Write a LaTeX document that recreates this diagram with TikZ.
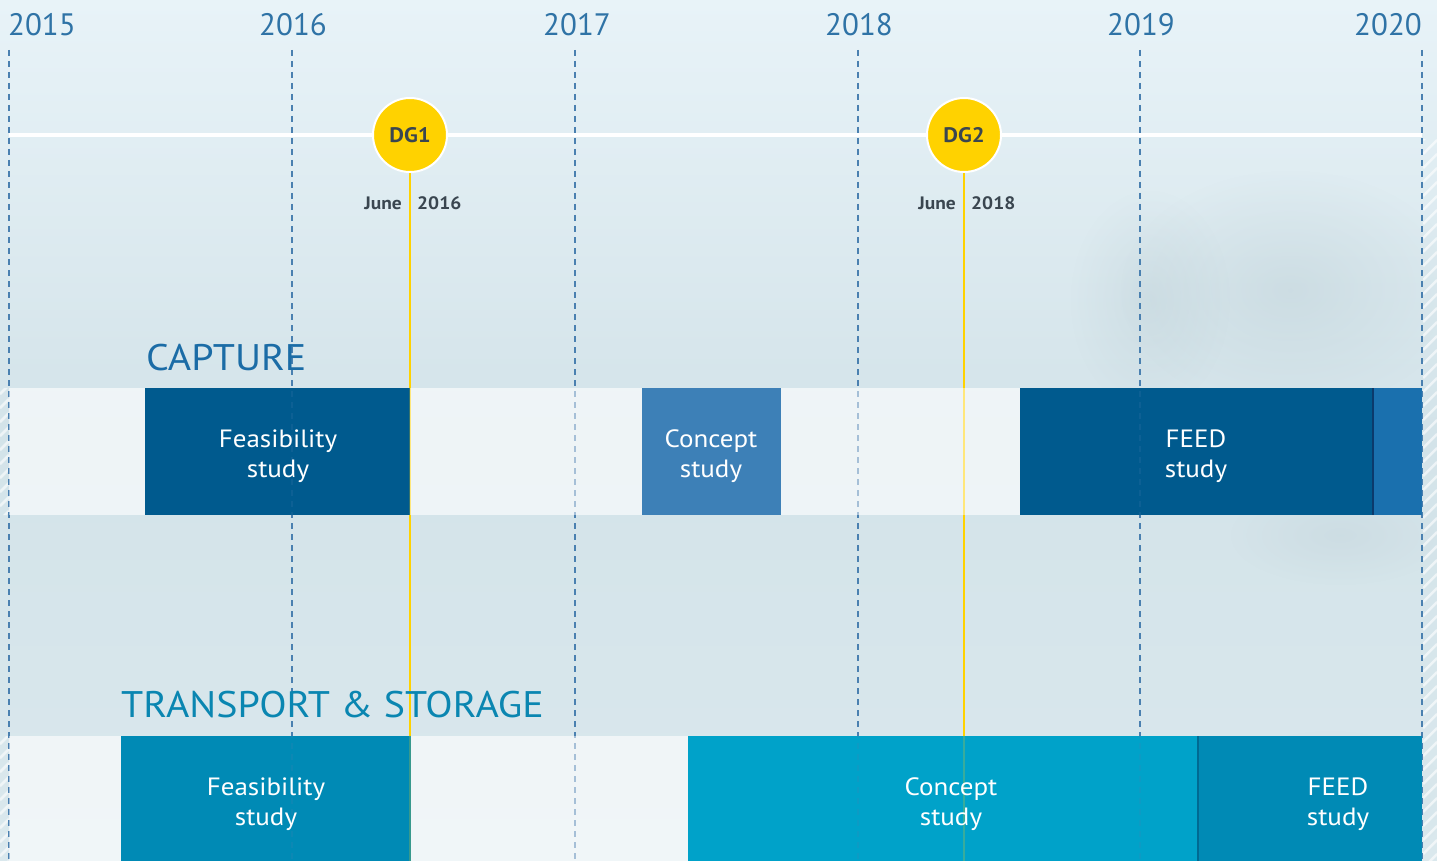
\documentclass[tikz,border=0pt]{standalone}
\usepackage{fontspec}
\setmainfont{PT Sans}[FakeStretch=1.08]
\newfontfamily\yearfont{PT Sans}
\usetikzlibrary{fadings}
\tikzfading[name=softblob, inner color=transparent!0, outer color=transparent!100]
\definecolor{bgtop}{HTML}{E8F3F8}
\definecolor{bgmid}{HTML}{D3E3E9}
\definecolor{bgbot}{HTML}{DAE8ED}
\definecolor{yearblue}{HTML}{2F73A6}
\definecolor{dashblue}{HTML}{4A80B0}
\definecolor{dgyellow}{HTML}{FFD200}
\definecolor{dgtext}{HTML}{3A4650}
\definecolor{capdark}{HTML}{005A8E}
\definecolor{capmid}{HTML}{3D80B7}
\definecolor{capend}{HTML}{1A70AE}
\definecolor{capsep}{HTML}{0B3A6C}
\definecolor{capttl}{HTML}{1B6CA6}
\definecolor{tsdark}{HTML}{008AB5}
\definecolor{tsmid}{HTML}{00A2C9}
\definecolor{tssep}{HTML}{006A92}
\definecolor{tsttl}{HTML}{0A86B1}
\definecolor{treegray}{HTML}{B4C8CF}
\begin{document}
\begin{tikzpicture}[x=1pt,y=-1pt,
  yearlbl/.style={text=yearblue,font=\yearfont\fontsize{31}{31}\selectfont,inner sep=0pt},
  gridline/.style={draw=dashblue,line width=1.4pt,dash pattern=on 6pt off 5pt},
  dgline/.style={draw=dgyellow,line width=2.6pt},
  dgcircle/.style={circle,fill=dgyellow,draw=white,line width=2pt,minimum size=74pt,inner sep=0pt,
    text=dgtext,font=\fontsize{21}{21}\selectfont\bfseries},
  datelbl/.style={text=dgtext,font=\fontsize{18}{18}\selectfont\bfseries,inner sep=0pt},
  lightbar/.style={fill=white,fill opacity=0.62,draw=none},
  bar/.style={draw=none,inner sep=0pt,anchor=north west},
  bartext/.style={text=white,inner sep=0pt,align=center,font=\fontsize{25}{30}\selectfont},
  secttl/.style={font=\fontsize{37}{37}\selectfont,inner sep=0pt,anchor=base west},
  stripe/.style={draw=white,opacity=0.6,line width=2.5pt},
  blob/.style={fill=treegray,path fading=softblob}
]
\useasboundingbox (0,0) rectangle (1437,861);
% background
\shade[top color=bgtop,bottom color=bgbot,middle color=bgmid] (0,0) rectangle (1437,861);
% soft tree blobs
\fill[blob,opacity=0.35] (1290,290) ellipse (170 and 120);
\fill[blob,opacity=0.3] (1150,300) ellipse (80 and 110);
\fill[blob,opacity=0.25] (1340,535) ellipse (110 and 50);
\fill[blob,opacity=0.2] (1330,800) ellipse (120 and 70);
% edge stripes
\begin{scope}
  \clip (1423,140) rectangle (1437,861);
  \foreach \y in {140,154,...,890} \draw[stripe] (1423,\y) -- (1437,\y-14);
\end{scope}
\begin{scope}
  \clip (0,388) rectangle (9,515) (0,736) rectangle (9,861);
  \foreach \y in {380,394,...,880} \draw[stripe] (0,\y) -- (9,\y-9);
\end{scope}
% timeline axis
\coordinate (axL) at (9,135);
\coordinate (axR) at (1422,135);
\draw[white,line width=4pt] (axL) -- (axR);
% year labels and grid lines
\node[yearlbl,anchor=base west] (y15) at (8,36) {2015};
\node[yearlbl,anchor=base] (y16) at (293,36) {2016};
\node[yearlbl,anchor=base] (y17) at (577,36) {2017};
\node[yearlbl,anchor=base] (y18) at (859,36) {2018};
\node[yearlbl,anchor=base] (y19) at (1141,36) {2019};
\node[yearlbl,anchor=base east] (y20) at (1422,36) {2020};
\foreach \x/\n in {9/a,292/b,575/c,858/d,1140/e,1422/f}{
  \coordinate (g\n t) at (\x,50);
  \coordinate (g\n b) at (\x,861);
  \draw[gridline] (g\n t) -- (g\n b);
}
% decision gate lines
\coordinate (dg1t) at (410,160);
\coordinate (dg1b) at (410,861);
\coordinate (dg2t) at (964,160);
\coordinate (dg2b) at (964,861);
\draw[dgline] (dg1t) -- (dg1b);
\draw[dgline] (dg2t) -- (dg2b);
% section titles and light bars
\node[secttl,text=capttl] (capt) at (146,370) {CAPTURE};
\node[secttl,text=tsttl] (tst) at (121,717) {TRANSPORT \& STORAGE};
\fill[lightbar] (9,388) rectangle (1422,515);
\fill[lightbar] (9,736) rectangle (1422,861);
% CAPTURE bars
\node[bar,fill=capdark,minimum width=265pt,minimum height=127pt] (cfs) at (145,388) {};
\node[bar,fill=capmid,minimum width=139pt,minimum height=127pt] (ccs) at (642,388) {};
\node[bar,fill=capend,minimum width=49pt,minimum height=127pt] (cend) at (1373,388) {};
\node[bar,fill=capdark,minimum width=353pt,minimum height=127pt] (cfeed) at (1020,388) {};
\draw[capsep,line width=1.5pt] (cend.north west) -- (cend.south west);
% TRANSPORT bars
\node[bar,fill=tsdark,minimum width=290pt,minimum height=125pt] (tfs) at (121,736) {};
\node[bar,fill=tsmid,minimum width=510pt,minimum height=125pt] (tcs) at (688,736) {};
\node[bar,fill=tsdark,minimum width=224pt,minimum height=125pt] (tfeed) at (1198,736) {};
\draw[tssep,line width=1.2pt] (tfeed.north west) -- (tfeed.south west);
% lines showing faintly through the bars
\begin{scope}
  \clip (9,388) rectangle (1422,515) (9,736) rectangle (1422,861);
  \foreach \n in {a,b,c,d,e,f} \draw[gridline,opacity=0.18] (g\n t) -- (g\n b);
  \draw[dgline,opacity=0.22] (dg1t) -- (dg1b);
  \draw[dgline,opacity=0.22] (dg2t) -- (dg2b);
\end{scope}
% bar texts
\node[bartext] (cfst) at (278,456) {Feasibility\\study};
\node[bartext] (ccst) at (711,456) {Concept\\study};
\node[bartext] (cfeedt) at (1196,456) {FEED\\study};
\node[bartext] (tfst) at (266,804) {Feasibility\\study};
\node[bartext] (tcst) at (951,804) {Concept\\study};
\node[bartext] (tfeedt) at (1338,804) {FEED\\study};
% decision gates
\node[dgcircle] (dg1) at (410,135) {DG1};
\node[dgcircle] (dg2) at (964,135) {DG2};
\node[datelbl,anchor=base east] (j1) at (402,210) {June};
\node[datelbl,anchor=base west] (d1) at (417,210) {2016};
\node[datelbl,anchor=base east] (j2) at (956,210) {June};
\node[datelbl,anchor=base west] (d2) at (971,210) {2018};
\end{tikzpicture}
\end{document}
